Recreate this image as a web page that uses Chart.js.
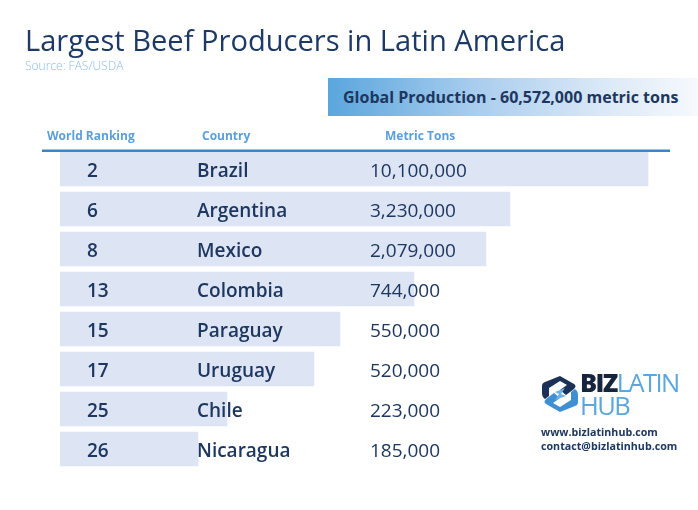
<!DOCTYPE html>
<html>
<head>
<meta charset="utf-8">
<script src="https://cdn.jsdelivr.net/npm/chart.js@4"></script>
<style>
    body { margin: 0; background: #fff; font-family: "Open Sans", sans-serif; }
    #wrap { position: relative; width: 698px; height: 510px; overflow: hidden; }
    #chart { position: absolute; left: 0; top: 0; }
    .abs { position: absolute; white-space: nowrap; }
    #title { left: 25px; top: 20px; font-size: 29.1px; font-weight: 500; color: #1d3a66; }
    #source { left: 25px; top: 57px; font-size: 12px; font-weight: 300; color: #8dbbe6; }
    #globalbox { left: 328px; top: 78px; width: 370px; height: 38px;
        background: linear-gradient(to right, #5aa6dd 0%, #a9cdee 40%, #dbe9f7 75%, #f6f9fd 100%); }
    #globalbox span { position: absolute; left: 15px; top: 8px; font-size: 16px; font-weight: 700; color: #1d3760; }
    .hdr { top: 127px; font-size: 12px; font-weight: 700; color: #5b9fd9; }
    #biz { left: 580px; top: 371px; font-size: 25.5px; line-height: 23px; color: #5aa6dd; letter-spacing: -1.6px; }
    #biz b { color: #16243d; font-weight: 800; }
    #urls { left: 541px; top: 425px; font-size: 10.7px; font-weight: 700; color: #1d3760; line-height: 14px; }
</style>
</head>
<body>
<div id="wrap">
    <canvas id="chart" width="698" height="510"></canvas>
    <div class="abs" id="title">Largest Beef Producers in Latin America</div>
    <div class="abs" id="source">Source: FAS/USDA</div>
    <div class="abs" id="globalbox"><span>Global Production - 60,572,000 metric tons</span></div>
    <div class="abs hdr" style="left:47px">World Ranking</div>
    <div class="abs hdr" style="left:202px">Country</div>
    <div class="abs hdr" style="left:385px">Metric Tons</div>
    <svg class="abs" style="left:541px;top:374px" width="38" height="40" viewBox="0 0 38 40">
        <path d="M19 2 L33 10 Q36 12 33 15 L25 21 L19 16 L26 11 L19 7 L8 14 L8 22 L4 25 Q1 23 1 19 L1 12 Q1 9 4 8 Z" fill="#1b3156"/>
        <path d="M19 38 L5 30 Q2 28 5 25 L13 19 L19 24 L12 29 L19 33 L30 26 L30 18 L34 15 Q37 17 37 21 L37 28 Q37 31 34 32 Z" fill="#3f8fd2"/>
        <path d="M14 18 L24 14 L20 20 L25 22 L14 26 L18 20 Z" fill="#6fb3e6"/>
    </svg>
    <div class="abs" id="biz"><b>BIZ</b>LATIN<br>HUB</div>
    <div class="abs" id="urls">www.bizlatinhub.com<br>contact@bizlatinhub.com</div>
</div>
<script>
// data
const ranks = ['2', '6', '8', '13', '15', '17', '25', '26'];
const countries = ['Brazil', 'Argentina', 'Mexico', 'Colombia', 'Paraguay', 'Uruguay', 'Chile', 'Nicaragua'];
const metricTons = [10100000, 3230000, 2079000, 744000, 550000, 520000, 223000, 185000];
// bar lengths as drawn in the graphic (not proportional to tons)
const barLength = [588, 450, 426, 354, 280, 254, 167, 138];

const fmt = n => n.toLocaleString('en-US');

//blue rule under the column headers + row texts
const rowText = {
    id: 'rowText',
    afterDatasetsDraw(chart) {
        const ctx = chart.ctx;
        const y = chart.scales.y;
        ctx.save();
        ctx.fillStyle = '#3a86c8';
        ctx.fillRect(42, 149.5, 628, 2.5);
        ctx.textBaseline = 'middle';
        ctx.fillStyle = '#1d3760';
        countries.forEach((c, i) => {
            const py = y.getPixelForValue(i) + 2.5;
            ctx.font = '600 19px "Open Sans"';
            ctx.fillText(ranks[i], 87, py);
            ctx.fillText(c, 197, py);
            ctx.font = '400 19px "Open Sans"';
            ctx.fillText(fmt(metricTons[i]), 370, py);
        });
        ctx.restore();
    }
};

new Chart(document.getElementById('chart'), {
    type: 'bar',
    data: {
        labels: countries,
        datasets: [{
            data: barLength,
            backgroundColor: '#dde4f3',
            borderWidth: 0,
            barThickness: 34
        }]
    },
    options: {
        indexAxis: 'y',
        responsive: false,
        animation: false,
        layout: { padding: { left: 60, right: 0, top: 149, bottom: 41 } },
        scales: {
            x: { display: false, min: 0, max: 638 },
            y: { display: false }
        },
        plugins: {
            legend: { display: false },
            tooltip: { enabled: false }
        }
    },
    plugins: [rowText]
});
</script>
</body>
</html>
